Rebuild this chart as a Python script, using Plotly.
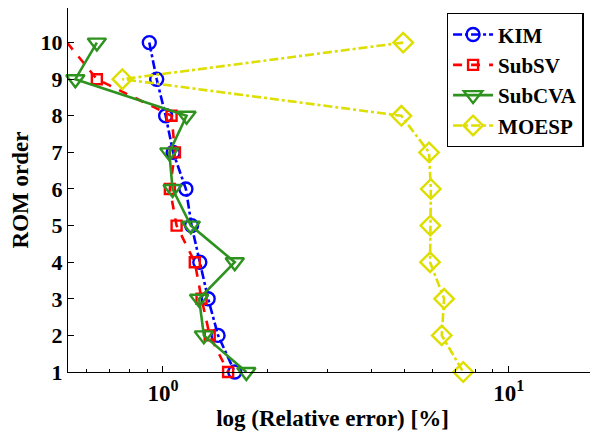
import plotly.graph_objects as go

orders = [10, 9, 8, 7, 6, 5, 4, 3, 2, 1]
kim = [0.913, 0.959, 1.018, 1.07, 1.165, 1.21, 1.278, 1.351, 1.443, 1.613]
subsv = [0.528, 0.644, 1.059, 1.083, 1.047, 1.095, 1.236, 1.293, 1.365, 1.543]
subcva = [0.644, 0.558, 1.17, 1.043, 1.066, 1.204, 1.613, 1.272, 1.313, 1.742]
moesp = [4.95, 0.763, 4.89, 5.88, 5.95, 5.93, 5.92, 6.5, 6.4, 7.38]

x_major = [1, 10]
x_major_text = ["10<sup>0</sup>", "10<sup>1</sup>"]
x_minor = [0.6, 0.7, 0.8, 0.9, 2, 3, 4, 5, 6, 7, 8, 9]
y_ticks = [1, 2, 3, 4, 5, 6, 7, 8, 9, 10]

FONT = "Liberation Serif, Times New Roman, serif"

series = [
    ("KIM", kim, "#0000FF", "dashdot", "circle-open", 13),
    ("SubSV", subsv, "#FF0000", "dash", "square-open", 10),
    ("SubCVA", subcva, "#2E921E", "solid", "triangle-down-open", 16),
    ("MOESP", moesp, "#DEDE00", "dashdot", "diamond-open", 15),
]

fig = go.Figure()
for name, vals, col, dash, sym, msize in series:
    fig.add_trace(go.Scatter(
        x=vals, y=orders, name=name, mode="lines+markers",
        line=dict(color=col, width=2.6, dash=dash),
        marker=dict(symbol=sym, size=msize, color=col, line=dict(width=2.4, color=col)),
        cliponaxis=False,
    ))

fig.update_layout(
    width=590, height=431,
    margin=dict(l=60, r=1, t=0, b=67),
    paper_bgcolor="white", plot_bgcolor="white",
    font=dict(family=FONT, size=21, color="black"),
    showlegend=True,
    legend=dict(
        x=0.716, y=0.986, xanchor="left", yanchor="top",
        bordercolor="black", borderwidth=1.3, bgcolor="white",
        font=dict(family=FONT, size=21, color="black", weight="bold"),
        tracegroupgap=0, itemwidth=40,
    ),
    xaxis=dict(
        type="log", range=[-0.2746, 1.255], automargin=False,
        tickvals=x_major, ticktext=x_major_text,
        ticks="inside", ticklen=6, tickcolor="black", tickwidth=1,
        showline=True, linecolor="black", linewidth=1.3,
        showgrid=False, zeroline=False,
        minor=dict(tickvals=x_minor, ticks="inside", ticklen=3, tickcolor="black", showgrid=False),
        tickfont=dict(family=FONT, size=23, weight="bold"),
        title=dict(text="log (Relative error) [%]", font=dict(family=FONT, size=23, weight="bold"), standoff=5),
    ),
    yaxis=dict(
        range=[1, 10.945], automargin=False,
        tickvals=y_ticks,
        ticks="inside", ticklen=6, tickcolor="black",
        showline=True, linecolor="black", linewidth=1.3,
        showgrid=False, zeroline=False,
        tickfont=dict(family=FONT, size=22, weight="bold"),
        title=dict(text="ROM order", font=dict(family=FONT, size=23, weight="bold"), standoff=10),
    ),
)

fig.write_html("out.html")
